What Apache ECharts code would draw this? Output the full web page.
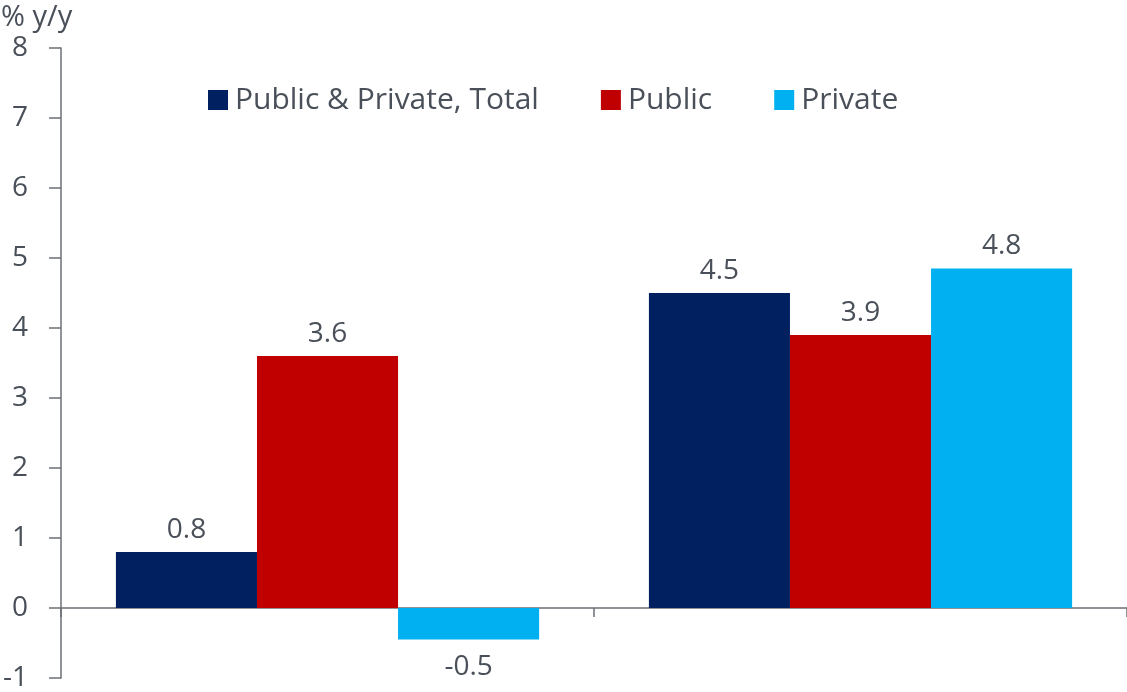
<!DOCTYPE html>
<html><head><meta charset="utf-8">
<script src="https://cdn.jsdelivr.net/npm/echarts@6/dist/echarts.min.js"></script>
<style>html,body{margin:0;padding:0;background:#fff}#c{width:1127px;height:692px}</style>
</head><body><div id="c"></div>
<script>
const categories = ['Period 1', 'Period 2'];
const totalValues = [0.8, 4.5];
const publicValues = [3.6, 3.9];
const privateValues = [-0.45, 4.85];
const totalLabels = ['0.8', '4.5'];
const publicLabels = ['3.6', '3.9'];
const privateLabels = ['-0.5', '4.8'];
const seriesNames = ['Public & Private, Total', 'Public', 'Private'];
const yTicks = { min: -1, max: 8, interval: 1 };

const FONT = '"Open Sans", "Noto Sans", sans-serif';
const TXT = '#4a5059';
const AX = '#6b6f75';
const colors = ['#002060', '#C00000', '#00B0F0'];

function mk(name, vals, labels, color) {
  return {
    name, type: 'bar', barGap: '0%', barCategoryGap: '20.6%',
    itemStyle: { color },
    label: {
      show: true,
      color: TXT, fontFamily: FONT, fontSize: 28,
      formatter: p => labels[p.dataIndex]
    },
    data: vals.map(v => ({ value: v, label: { position: v < 0 ? 'bottom' : 'top', distance: v < 0 ? 14 : 8 } }))
  };
}

const chart = echarts.init(document.getElementById('c'), null, { renderer: 'canvas' });
chart.setOption({
  animation: false,
  color: colors,
  title: { text: '% y/y', left: -4, top: -2, textStyle: { color: TXT, fontFamily: FONT, fontSize: 29, fontWeight: 'normal' } },
  legend: {
    top: 80, left: 203, itemWidth: 20, itemHeight: 20, itemGap: 62,
    icon: 'rect',
    textStyle: { color: TXT, fontFamily: FONT, fontSize: 30, padding: [0, 0, 0, 2] },
    data: seriesNames
  },
  grid: { left: 57, right: 0, top: 48, bottom: 14, containLabel: false },
  xAxis: {
    type: 'category', data: categories,
    axisLine: { onZero: true, lineStyle: { color: AX, width: 1.5 } },
    axisTick: { show: true, length: 9, lineStyle: { color: AX, width: 1.5 } },
    axisLabel: { show: false },
    splitLine: { show: false }
  },
  yAxis: {
    type: 'value', min: yTicks.min, max: yTicks.max, interval: yTicks.interval,
    axisLine: { show: true, lineStyle: { color: AX, width: 1.5 } },
    axisTick: { show: true, length: 12, lineStyle: { color: AX, width: 1.5 } },
    axisLabel: { color: TXT, fontFamily: FONT, fontSize: 28, margin: 33 },
    splitLine: { show: false }
  },
  series: [
    mk(seriesNames[0], totalValues, totalLabels, colors[0]),
    mk(seriesNames[1], publicValues, publicLabels, colors[1]),
    mk(seriesNames[2], privateValues, privateLabels, colors[2])
  ]
});
</script></body></html>
